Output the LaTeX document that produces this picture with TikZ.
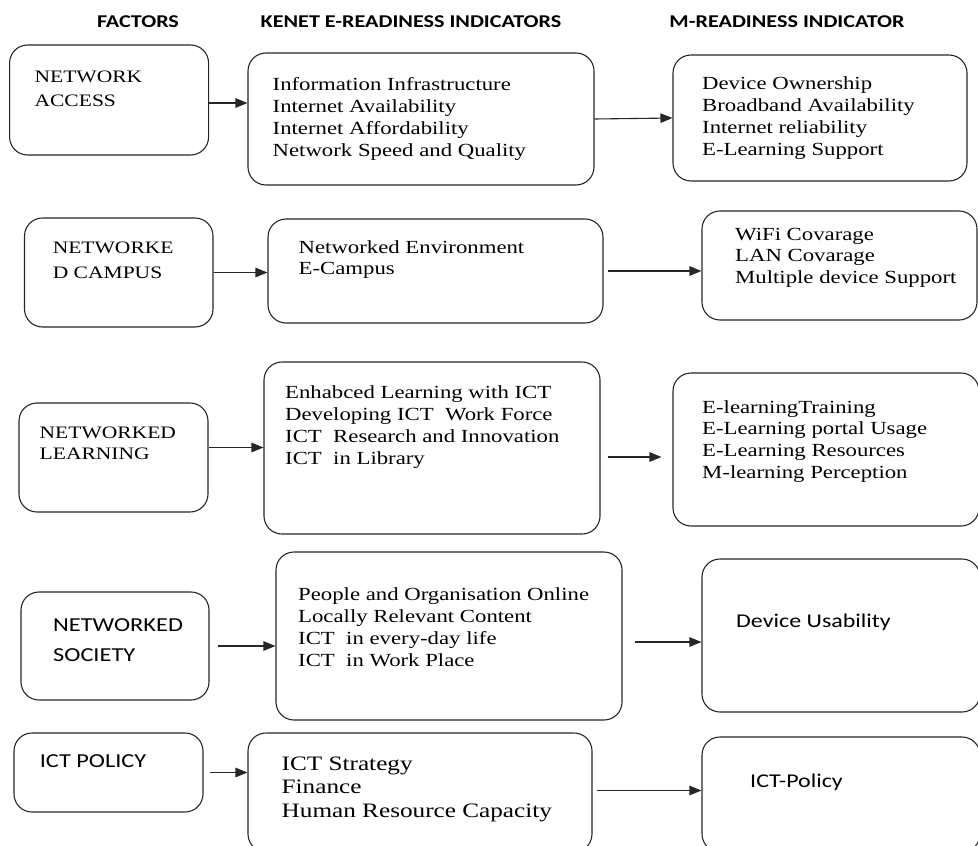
\documentclass[tikz,border=0pt]{standalone}
\usepackage{fontspec}
\setmainfont{Liberation Serif}[FakeStretch=1.23]
\newfontfamily\calib{Carlito}[FakeStretch=1.23]
\usetikzlibrary{arrows.meta,fit,calc}
\newcommand\stk[1]{\vtop{\halign{##\hfil\cr#1\crcr}}}
\begin{document}
\begin{tikzpicture}[x=1pt,y=-1pt,
  bx/.style={draw=black!85, line width=1.1pt, rounded corners=18pt, inner sep=0pt},
  txt/.style={anchor=base west, inner sep=0pt, text=black},
  hdr/.style={anchor=base, inner sep=0pt, font=\calib\bfseries\fontsize{18}{20}\selectfont},
  arr/.style={line width=1.1pt, draw=black!85, -{Triangle[length=12pt,width=9.5pt]}},
  ser/.style={font=\fontsize{18.5}{22}\selectfont},
  serf/.style={font=\fontsize{17.5}{24}\selectfont},
  sans/.style={font=\calib\fontsize{19.8}{30}\selectfont}]
\useasboundingbox (0,0) rectangle (978,846);
% headers
\node[hdr] (h1) at (138,27) {FACTORS};
\node[hdr] (h2) at (411,27) {KENET E-READINESS INDICATORS};
\node[hdr] (h3) at (787,27) {M-READINESS INDICATOR};
% boxes
\node[bx, fit={(9.6,45) (208.6,155)}] (f1) {};
\node[bx, fit={(248,53) (594,185)}] (k1) {};
\node[bx, fit={(673,55) (967,181)}] (m1) {};
\node[bx, fit={(24.5,218) (213,327)}] (f2) {};
\node[bx, fit={(268,219) (603,323)}] (k2) {};
\node[bx, fit={(702,211) (977,320)}] (m2) {};
\node[bx, fit={(19,403) (208,512)}] (f3) {};
\node[bx, fit={(264,362) (600,534)}] (k3) {};
\node[bx, fit={(673,373) (979,526)}] (m3) {};
\node[bx, fit={(21,592) (209,700)}] (f4) {};
\node[bx, fit={(276,552) (622,720)}] (k4) {};
\node[bx, fit={(702,559) (980,712)}] (m4) {};
\node[bx, fit={(14,733) (203,812)}] (f5) {};
\node[bx, fit={(248,733) (592,852)}] (k5) {};
\node[bx, fit={(702,737) (980,852)}] (m5) {};
% texts
\node[txt, serf] (f1t) at (34.4,82.7) {\stk{NETWORK\cr ACCESS}};
\node[txt, ser] (k1t) at (272.5,90.7) {\stk{Information Infrastructure\cr Internet Availability\cr Internet Affordability\cr Network Speed and Quality}};
\node[txt, ser] (m1t) at (702,89) {\stk{Device Ownership\cr Broadband Availability\cr Internet reliability\cr E-Learning Support}};
\node[txt, serf, font=\fontsize{17.5}{25}\selectfont] (f2t) at (52.6,253) {\stk{NETWORKE\cr D CAMPUS}};
\node[txt, ser, font=\fontsize{18.5}{21}\selectfont] (k2t) at (298.5,253) {\stk{Networked Environment\cr E-Campus}};
\node[txt, ser, font=\fontsize{18.5}{21.5}\selectfont] (m2t) at (735,240) {\stk{WiFi Covarage\cr LAN Covarage\cr Multiple device Support}};
\node[txt, serf, font=\fontsize{17.5}{21}\selectfont] (f3t) at (39.5,438) {\stk{NETWORKED\cr LEARNING}};
\node[txt, ser] (k3t) at (285,398) {\stk{Enhabced Learning with ICT\cr Developing ICT\ \ Work Force\cr ICT\ \ Research and Innovation\cr ICT\ \ in Library}};
\node[txt, ser, font=\fontsize{18.5}{21.7}\selectfont] (m3t) at (702,413) {\stk{E-learningTraining\cr E-Learning portal Usage\cr E-Learning Resources\cr M-learning Perception}};
\node[txt, sans] (f4t) at (53,631) {\stk{NETWORKED\cr SOCIETY}};
\node[txt, ser] (k4t) at (298,600) {\stk{People and Organisation Online\cr Locally Relevant Content\cr ICT\ \ in every-day life\cr ICT\ \ in Work Place}};
\node[txt, sans, font=\calib\fontsize{19.5}{24}\selectfont] (m4t) at (736,627) {Device Usability};
\node[txt, sans] (f5t) at (39.6,767) {ICT POLICY};
\node[txt, font=\fontsize{20.5}{23.5}\selectfont] (k5t) at (281.5,770) {\stk{ICT Strategy\cr Finance\cr Human Resource Capacity}};
\node[txt, sans, font=\calib\fontsize{19.5}{24}\selectfont] (m5t) at (750,787) {ICT-Policy};
% arrow start points
\coordinate (a1) at ([yshift=-3pt]f1.east);
\coordinate (a5) at ([yshift=10pt]f3.east);
\coordinate (a6) at ([yshift=-9pt]k3.east);
\coordinate (a8) at ([yshift=-6pt]k4.east);
\coordinate (a10) at ([yshift=2pt]k5.east);
% arrows
\draw[arr] (a1) -- (k1.west |- a1);
\draw[arr] (k1.east) -- (m1.west);
\draw[arr] (f2.east) -- (k2.west |- f2.east);
\draw[arr, shorten <=4pt] (k2.east) -- (m2.west |- k2.east);
\draw[arr] (a5) -- (k3.west |- a5);
\draw[arr, shorten <=7pt, shorten >=11pt] (a6) -- (m3.west |- a6);
\draw[arr, shorten <=8pt] (f4.east) -- (k4.west |- f4.east);
\draw[arr, shorten <=12pt] (a8) -- (m4.west |- a8);
\draw[arr, shorten <=6pt] (f5.east) -- (k5.west |- f5.east);
\draw[arr, shorten <=4pt] (a10) -- (m5.west |- a10);
\end{tikzpicture}
\end{document}
